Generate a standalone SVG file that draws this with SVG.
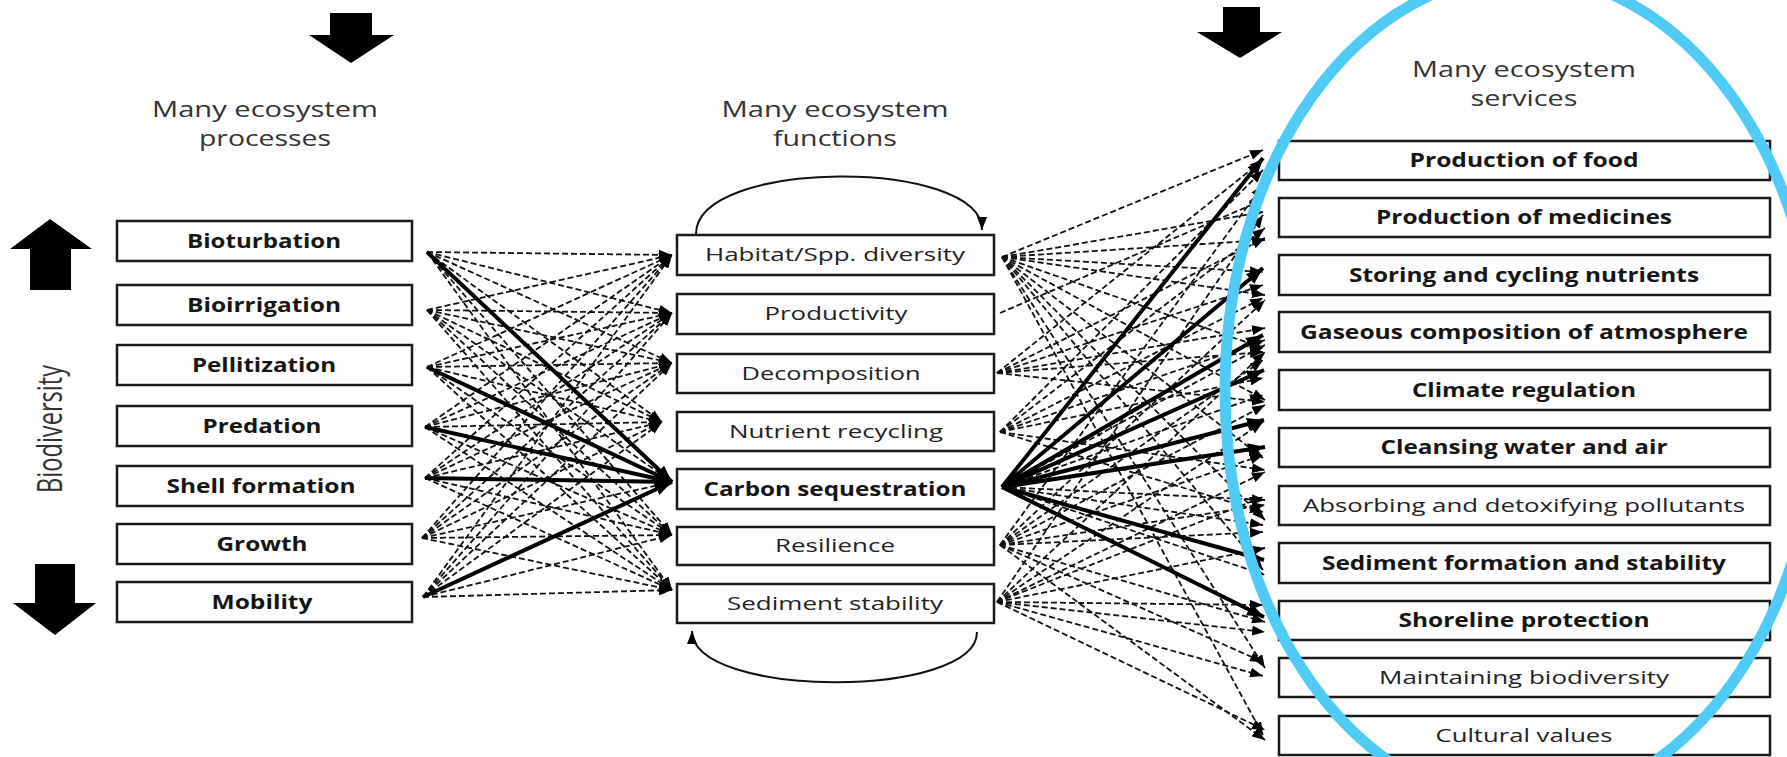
<svg xmlns="http://www.w3.org/2000/svg" width="1787" height="757" viewBox="0 0 1787 757">
<style>
text{font-family:"Open Sans","Liberation Sans",sans-serif;}
.hdr{font-size:21px;fill:#333;text-anchor:middle;}
.lb{font-size:20px;font-weight:bold;fill:#151515;text-anchor:middle;}
.lr{font-size:19px;fill:#222;text-anchor:middle;}
.box{fill:#fff;stroke:#1a1a1a;stroke-width:2.5;}
.blk{fill:#000;}
.d{stroke:#111;stroke-width:1.8;stroke-dasharray:6 3;fill:none;marker-end:url(#ah);}
.t{stroke:#000;stroke-width:4;fill:none;marker-end:url(#ahb);}
.cv{stroke:#111;stroke-width:2;fill:none;marker-end:url(#ah);}
</style>
<defs>
<marker id="ah" markerUnits="userSpaceOnUse" markerWidth="13" markerHeight="10" refX="13" refY="5" orient="auto"><path d="M0,0 L13,5 L0,10 z" fill="#000"/></marker>
<marker id="ahb" markerUnits="userSpaceOnUse" markerWidth="17" markerHeight="13" refX="17" refY="6.5" orient="auto"><path d="M0,0 L17,6.5 L0,13 z" fill="#000"/></marker>
</defs>
<rect width="1787" height="757" fill="#fff"/>

<g id="block-arrows">
<polygon class="blk" points="330,13 372,13 372,35 394,35 351,63 309,35 330,35"/>
<polygon class="blk" points="1223,7 1260,7 1260,32 1282,32 1240,58 1197,32 1223,32"/>
<polygon class="blk" points="50,219 92,249 71,249 71,290 30,290 30,249 10,249"/>
<polygon class="blk" points="35,564 75,564 75,603 96,603 55,635 13,603 35,603"/>
</g>

<g id="headers">
<text class="hdr" x="265" y="117" textLength="226" lengthAdjust="spacingAndGlyphs">Many ecosystem</text>
<text class="hdr" x="265" y="146" textLength="132" lengthAdjust="spacingAndGlyphs">processes</text>
<text class="hdr" x="835" y="117" textLength="227" lengthAdjust="spacingAndGlyphs">Many ecosystem</text>
<text class="hdr" x="835" y="146" textLength="124" lengthAdjust="spacingAndGlyphs">functions</text>
<text class="hdr" x="1524" y="77" textLength="224" lengthAdjust="spacingAndGlyphs">Many ecosystem</text>
<text class="hdr" x="1524" y="106" textLength="107" lengthAdjust="spacingAndGlyphs">services</text>
<text class="hdr" style="font-size:24px" transform="translate(62,429) rotate(-90) scale(1,1.45)" x="0" y="0" textLength="128" lengthAdjust="spacingAndGlyphs">Biodiversity</text>
</g>

<g id="connectors">
<!-- left dashed -->
<line class="d" x1="427" y1="252" x2="672" y2="255"/>
<line class="d" x1="427" y1="252" x2="672" y2="313"/>
<line class="d" x1="427" y1="252" x2="672" y2="363"/>
<line class="d" x1="427" y1="252" x2="662" y2="422"/>
<line class="d" x1="427" y1="252" x2="672" y2="535"/>
<line class="d" x1="427" y1="252" x2="672" y2="590"/>
<line class="d" x1="427" y1="310" x2="672" y2="255"/>
<line class="d" x1="427" y1="310" x2="672" y2="313"/>
<line class="d" x1="427" y1="310" x2="672" y2="363"/>
<line class="d" x1="427" y1="310" x2="662" y2="422"/>
<line class="d" x1="427" y1="310" x2="672" y2="482"/>
<line class="d" x1="427" y1="310" x2="672" y2="535"/>
<line class="d" x1="427" y1="310" x2="672" y2="590"/>
<line class="d" x1="427" y1="367" x2="672" y2="255"/>
<line class="d" x1="427" y1="367" x2="672" y2="313"/>
<line class="d" x1="427" y1="367" x2="672" y2="363"/>
<line class="d" x1="427" y1="367" x2="662" y2="422"/>
<line class="d" x1="427" y1="367" x2="672" y2="535"/>
<line class="d" x1="427" y1="367" x2="672" y2="590"/>
<line class="d" x1="425" y1="427" x2="672" y2="255"/>
<line class="d" x1="425" y1="427" x2="672" y2="313"/>
<line class="d" x1="425" y1="427" x2="672" y2="363"/>
<line class="d" x1="425" y1="427" x2="662" y2="422"/>
<line class="d" x1="425" y1="427" x2="672" y2="535"/>
<line class="d" x1="425" y1="427" x2="672" y2="590"/>
<line class="d" x1="425" y1="478" x2="672" y2="255"/>
<line class="d" x1="425" y1="478" x2="672" y2="313"/>
<line class="d" x1="425" y1="478" x2="672" y2="363"/>
<line class="d" x1="425" y1="478" x2="662" y2="422"/>
<line class="d" x1="425" y1="478" x2="672" y2="535"/>
<line class="d" x1="425" y1="478" x2="672" y2="590"/>
<line class="d" x1="422" y1="538" x2="672" y2="255"/>
<line class="d" x1="422" y1="538" x2="672" y2="313"/>
<line class="d" x1="422" y1="538" x2="672" y2="363"/>
<line class="d" x1="422" y1="538" x2="662" y2="422"/>
<line class="d" x1="422" y1="538" x2="672" y2="482"/>
<line class="d" x1="422" y1="538" x2="672" y2="535"/>
<line class="d" x1="422" y1="538" x2="672" y2="590"/>
<line class="d" x1="423" y1="597" x2="672" y2="255"/>
<line class="d" x1="423" y1="597" x2="672" y2="313"/>
<line class="d" x1="423" y1="597" x2="672" y2="363"/>
<line class="d" x1="423" y1="597" x2="662" y2="422"/>
<line class="d" x1="423" y1="597" x2="672" y2="535"/>
<line class="d" x1="423" y1="597" x2="672" y2="590"/>
<!-- left thick -->
<line class="t" x1="427" y1="252" x2="672" y2="482"/>
<line class="t" x1="427" y1="367" x2="672" y2="482"/>
<line class="t" x1="425" y1="427" x2="672" y2="482"/>
<line class="t" x1="425" y1="478" x2="672" y2="482"/>
<line class="t" x1="423" y1="597" x2="672" y2="482"/>
<!-- right dashed: Habitat -->
<line class="d" x1="1002" y1="257" x2="1263" y2="150"/>
<line class="d" x1="1002" y1="257" x2="1263" y2="212"/>
<line class="d" x1="1002" y1="257" x2="1265" y2="240"/>
<line class="d" x1="1002" y1="257" x2="1263" y2="272"/>
<line class="d" x1="1002" y1="257" x2="1265" y2="295"/>
<line class="d" x1="1002" y1="257" x2="1263" y2="348"/>
<line class="d" x1="1002" y1="257" x2="1265" y2="400"/>
<line class="d" x1="1002" y1="257" x2="1263" y2="458"/>
<line class="d" x1="1002" y1="257" x2="1265" y2="520"/>
<line class="d" x1="1002" y1="257" x2="1263" y2="570"/>
<line class="d" x1="1002" y1="257" x2="1265" y2="668"/>
<line class="d" x1="1002" y1="257" x2="1263" y2="735"/>
<!-- Productivity -->
<line class="d" x1="1000" y1="313" x2="1263" y2="200"/>
<!-- Decomposition -->
<line class="d" x1="997" y1="373" x2="1263" y2="160"/>
<line class="d" x1="997" y1="373" x2="1265" y2="238"/>
<line class="d" x1="997" y1="373" x2="1263" y2="285"/>
<line class="d" x1="997" y1="373" x2="1265" y2="328"/>
<line class="d" x1="997" y1="373" x2="1263" y2="352"/>
<line class="d" x1="997" y1="373" x2="1265" y2="402"/>
<!-- Nutrient recycling -->
<line class="d" x1="1000" y1="432" x2="1263" y2="170"/>
<line class="d" x1="1000" y1="432" x2="1265" y2="228"/>
<line class="d" x1="1000" y1="432" x2="1263" y2="298"/>
<line class="d" x1="1000" y1="432" x2="1265" y2="340"/>
<line class="d" x1="1000" y1="432" x2="1263" y2="378"/>
<line class="d" x1="1000" y1="432" x2="1265" y2="470"/>
<line class="d" x1="1000" y1="432" x2="1263" y2="512"/>
<!-- Carbon dashed -->
<line class="d" x1="1002" y1="487" x2="1265" y2="345"/>
<line class="d" x1="1002" y1="487" x2="1263" y2="395"/>
<line class="d" x1="1002" y1="487" x2="1265" y2="500"/>
<line class="d" x1="1002" y1="487" x2="1263" y2="525"/>
<line class="d" x1="1002" y1="487" x2="1265" y2="575"/>
<!-- Resilience -->
<line class="d" x1="1000" y1="545" x2="1263" y2="185"/>
<line class="d" x1="1000" y1="545" x2="1265" y2="300"/>
<line class="d" x1="1000" y1="545" x2="1263" y2="360"/>
<line class="d" x1="1000" y1="545" x2="1265" y2="405"/>
<line class="d" x1="1000" y1="545" x2="1263" y2="455"/>
<line class="d" x1="1000" y1="545" x2="1265" y2="505"/>
<line class="d" x1="1000" y1="545" x2="1263" y2="532"/>
<line class="d" x1="1000" y1="545" x2="1265" y2="622"/>
<line class="d" x1="1000" y1="545" x2="1263" y2="662"/>
<line class="d" x1="1000" y1="545" x2="1265" y2="740"/>
<!-- Sediment stability -->
<line class="d" x1="997" y1="602" x2="1263" y2="215"/>
<line class="d" x1="997" y1="602" x2="1265" y2="352"/>
<line class="d" x1="997" y1="602" x2="1263" y2="422"/>
<line class="d" x1="997" y1="602" x2="1265" y2="472"/>
<line class="d" x1="997" y1="602" x2="1263" y2="497"/>
<line class="d" x1="997" y1="602" x2="1265" y2="548"/>
<line class="d" x1="997" y1="602" x2="1263" y2="605"/>
<line class="d" x1="997" y1="602" x2="1265" y2="632"/>
<line class="d" x1="997" y1="602" x2="1263" y2="676"/>
<line class="d" x1="997" y1="602" x2="1265" y2="730"/>
<!-- right thick from Carbon sequestration -->
<line class="t" x1="1002" y1="487" x2="1263" y2="158"/>
<line class="t" x1="1002" y1="487" x2="1263" y2="268"/>
<line class="t" x1="1002" y1="487" x2="1263" y2="335"/>
<line class="t" x1="1002" y1="487" x2="1264" y2="370"/>
<line class="t" x1="1002" y1="487" x2="1264" y2="420"/>
<line class="t" x1="1002" y1="487" x2="1265" y2="447"/>
<line class="t" x1="1002" y1="487" x2="1264" y2="560"/>
<line class="t" x1="1002" y1="487" x2="1264" y2="617"/>
<!-- feedback loops -->
<path class="cv" d="M696,234 C696,158 982,158 982,230"/>
<path class="cv" d="M977,632 C977,699 692,699 692,631"/>
</g>

<g id="n-bioturbation"><rect class="box" x="117" y="221" width="295" height="40"/><text class="lb" x="264" y="248" textLength="154" lengthAdjust="spacingAndGlyphs">Bioturbation</text></g>
<g id="n-bioirrigation"><rect class="box" x="117" y="285" width="295" height="40"/><text class="lb" x="264" y="312" textLength="154" lengthAdjust="spacingAndGlyphs">Bioirrigation</text></g>
<g id="n-pellitization"><rect class="box" x="117" y="345" width="295" height="40"/><text class="lb" x="264" y="372" textLength="144" lengthAdjust="spacingAndGlyphs">Pellitization</text></g>
<g id="n-predation"><rect class="box" x="117" y="406" width="295" height="40"/><text class="lb" x="262" y="433" textLength="119" lengthAdjust="spacingAndGlyphs">Predation</text></g>
<g id="n-shell"><rect class="box" x="117" y="466" width="295" height="40"/><text class="lb" x="261" y="493" textLength="189" lengthAdjust="spacingAndGlyphs">Shell formation</text></g>
<g id="n-growth"><rect class="box" x="117" y="524" width="295" height="40"/><text class="lb" x="262" y="551" textLength="91" lengthAdjust="spacingAndGlyphs">Growth</text></g>
<g id="n-mobility"><rect class="box" x="117" y="582" width="295" height="40"/><text class="lb" x="262" y="609" textLength="101" lengthAdjust="spacingAndGlyphs">Mobility</text></g>

<g id="n-habitat"><rect class="box" x="677" y="235" width="317" height="40"/><text class="lr" x="835" y="261" textLength="260" lengthAdjust="spacingAndGlyphs">Habitat/Spp. diversity</text></g>
<g id="n-productivity"><rect class="box" x="677" y="294" width="317" height="40"/><text class="lr" x="836" y="320" textLength="143" lengthAdjust="spacingAndGlyphs">Productivity</text></g>
<g id="n-decomposition"><rect class="box" x="677" y="354" width="317" height="39"/><text class="lr" x="831" y="380" textLength="179" lengthAdjust="spacingAndGlyphs">Decomposition</text></g>
<g id="n-nutrient"><rect class="box" x="677" y="412" width="317" height="39"/><text class="lr" x="836" y="438" textLength="214" lengthAdjust="spacingAndGlyphs">Nutrient recycling</text></g>
<g id="n-carbon"><rect class="box" x="677" y="469" width="317" height="40"/><text class="lb" x="835" y="496" textLength="263" lengthAdjust="spacingAndGlyphs">Carbon sequestration</text></g>
<g id="n-resilience"><rect class="box" x="677" y="527" width="317" height="38"/><text class="lr" x="835" y="552" textLength="120" lengthAdjust="spacingAndGlyphs">Resilience</text></g>
<g id="n-sediment"><rect class="box" x="677" y="584" width="317" height="39"/><text class="lr" x="835" y="610" textLength="216" lengthAdjust="spacingAndGlyphs">Sediment stability</text></g>

<g id="s-food"><rect class="box" x="1279" y="141" width="491" height="39"/><text class="lb" x="1524" y="167" textLength="229" lengthAdjust="spacingAndGlyphs">Production of food</text></g>
<g id="s-medicines"><rect class="box" x="1279" y="198" width="491" height="39"/><text class="lb" x="1524" y="224" textLength="296" lengthAdjust="spacingAndGlyphs">Production of medicines</text></g>
<g id="s-storing"><rect class="box" x="1279" y="255" width="491" height="40"/><text class="lb" x="1524" y="282" textLength="350" lengthAdjust="spacingAndGlyphs">Storing and cycling nutrients</text></g>
<g id="s-gaseous"><rect class="box" x="1279" y="312" width="491" height="40"/><text class="lb" x="1524" y="339" textLength="448" lengthAdjust="spacingAndGlyphs">Gaseous composition of atmosphere</text></g>
<g id="s-climate"><rect class="box" x="1279" y="370" width="491" height="40"/><text class="lb" x="1524" y="397" textLength="224" lengthAdjust="spacingAndGlyphs">Climate regulation</text></g>
<g id="s-cleansing"><rect class="box" x="1279" y="428" width="491" height="39"/><text class="lb" x="1524" y="454" textLength="287" lengthAdjust="spacingAndGlyphs">Cleansing water and air</text></g>
<g id="s-absorbing"><rect class="box" x="1279" y="486" width="491" height="39"/><text class="lr" x="1524" y="512" textLength="442" lengthAdjust="spacingAndGlyphs">Absorbing and detoxifying pollutants</text></g>
<g id="s-sedform"><rect class="box" x="1279" y="543" width="491" height="40"/><text class="lb" x="1524" y="570" textLength="404" lengthAdjust="spacingAndGlyphs">Sediment formation and stability</text></g>
<g id="s-shoreline"><rect class="box" x="1279" y="601" width="491" height="39"/><text class="lb" x="1524" y="627" textLength="251" lengthAdjust="spacingAndGlyphs">Shoreline protection</text></g>
<g id="s-maintaining"><rect class="box" x="1279" y="658" width="491" height="39"/><text class="lr" x="1524" y="684" textLength="290" lengthAdjust="spacingAndGlyphs">Maintaining biodiversity</text></g>
<g id="s-cultural"><rect class="box" x="1279" y="716" width="491" height="39"/><text class="lr" x="1524" y="742" textLength="177" lengthAdjust="spacingAndGlyphs">Cultural values</text></g>

<g id="highlight">
<ellipse cx="1522" cy="390" rx="297" ry="415" fill="none" stroke="#4FCBF6" stroke-width="11"/>
</g>
</svg>
